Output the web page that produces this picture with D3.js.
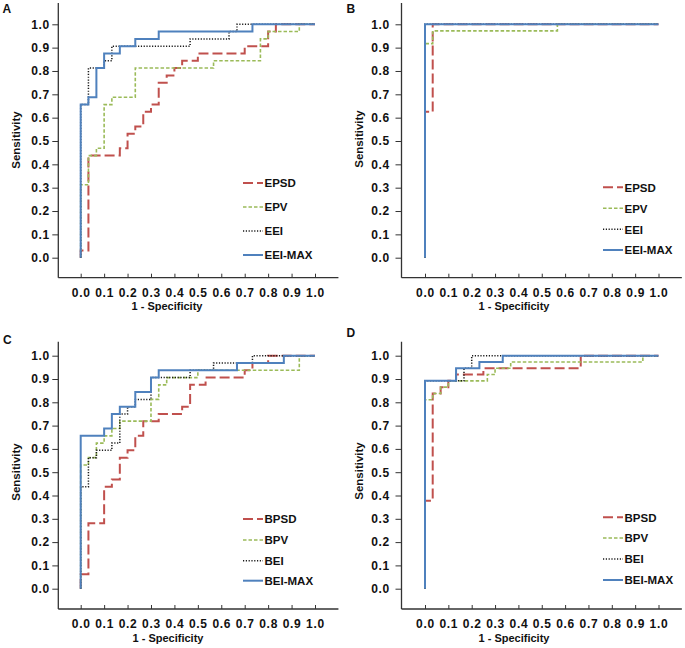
<!DOCTYPE html>
<html><head><meta charset="utf-8">
<script src="https://cdn.jsdelivr.net/npm/d3@7"></script>
<style>body{margin:0;background:#fff}</style>
</head><body>
<svg id="c" width="685" height="648"></svg>
<script>
// ---------- data ----------
const tickValues = [0,0.1,0.2,0.3,0.4,0.5,0.6,0.7,0.8,0.9,1.0];
const tickLabels = ["0.0","0.1","0.2","0.3","0.4","0.5","0.6","0.7","0.8","0.9","1.0"];
const xTitle = "1 - Specificity";
const yTitle = "Sensitivity";
const namesTop = ["EPSD","EPV","EEI","EEI-MAX"];
const namesBottom = ["BPSD","BPV","BEI","BEI-MAX"];
const panelLetters = ["A","B","C","D"];

// Panel A
const A_EPSD = [[0,0],[0,0.031],[0.033,0.031],[0.033,0.4375],[0.167,0.4375],[0.167,0.469],[0.2,0.469],[0.2,0.531],[0.233,0.531],[0.233,0.5625],[0.267,0.5625],[0.267,0.625],[0.3,0.625],[0.3,0.656],[0.333,0.656],[0.333,0.75],[0.367,0.75],[0.367,0.781],[0.4,0.781],[0.4,0.8125],[0.433,0.8125],[0.433,0.844],[0.5,0.844],[0.5,0.875],[0.7,0.875],[0.7,0.906],[0.8,0.906],[0.8,0.969],[0.833,0.969],[0.833,1],[1,1]];
const A_EPV = [[0,0],[0,0.3125],[0.033,0.3125],[0.033,0.4375],[0.067,0.4375],[0.067,0.469],[0.1,0.469],[0.1,0.656],[0.133,0.656],[0.133,0.6875],[0.233,0.6875],[0.233,0.8125],[0.567,0.8125],[0.567,0.844],[0.767,0.844],[0.767,0.9375],[0.8,0.9375],[0.8,0.969],[0.933,0.969],[0.933,1],[1,1]];
const A_EEI = [[0,0],[0,0.656],[0.033,0.656],[0.033,0.8125],[0.1,0.8125],[0.1,0.844],[0.133,0.844],[0.133,0.906],[0.467,0.906],[0.467,0.9375],[0.633,0.9375],[0.633,0.969],[0.667,0.969],[0.667,1],[1,1]];
const A_EEIMAX = [[0,0],[0,0.656],[0.033,0.656],[0.033,0.6875],[0.067,0.6875],[0.067,0.8125],[0.1,0.8125],[0.1,0.875],[0.167,0.875],[0.167,0.906],[0.233,0.906],[0.233,0.9375],[0.333,0.9375],[0.333,0.969],[0.733,0.969],[0.733,1],[1,1]];

// Panel B
const B_EPSD = [[0,0],[0,0.625],[0.033,0.625],[0.033,1],[1,1]];
const B_EPV = [[0,0],[0,0.917],[0.033,0.917],[0.033,0.972],[0.567,0.972],[0.567,1],[1,1]];
const B_EEI = [[0,0],[0,1],[1,1]];
const B_EEIMAX = [[0,0],[0,1],[1,1]];

// Panel C
const C_BPSD = [[0,0],[0,0.0625],[0.033,0.0625],[0.033,0.281],[0.1,0.281],[0.1,0.4375],[0.133,0.4375],[0.133,0.469],[0.167,0.469],[0.167,0.5625],[0.2,0.5625],[0.2,0.594],[0.233,0.594],[0.233,0.656],[0.267,0.656],[0.267,0.719],[0.333,0.719],[0.333,0.75],[0.433,0.75],[0.433,0.781],[0.467,0.781],[0.467,0.875],[0.533,0.875],[0.533,0.906],[0.7,0.906],[0.7,0.9375],[0.733,0.9375],[0.733,0.969],[0.8,0.969],[0.8,1],[1,1]];
const C_BPV = [[0,0],[0,0.531],[0.033,0.531],[0.033,0.5625],[0.067,0.5625],[0.067,0.625],[0.1,0.625],[0.1,0.656],[0.133,0.656],[0.133,0.6875],[0.167,0.6875],[0.167,0.719],[0.3,0.719],[0.3,0.8125],[0.333,0.8125],[0.333,0.875],[0.367,0.875],[0.367,0.906],[0.5,0.906],[0.5,0.9375],[0.933,0.9375],[0.933,1],[1,1]];
const C_BEI = [[0,0],[0,0.4375],[0.033,0.4375],[0.033,0.5625],[0.067,0.5625],[0.067,0.594],[0.133,0.594],[0.133,0.625],[0.167,0.625],[0.167,0.75],[0.2,0.75],[0.2,0.781],[0.233,0.781],[0.233,0.8125],[0.3,0.8125],[0.3,0.906],[0.467,0.906],[0.467,0.9375],[0.567,0.9375],[0.567,0.969],[0.733,0.969],[0.733,1],[1,1]];
const C_BEIMAX = [[0,0],[0,0.656],[0.1,0.656],[0.1,0.6875],[0.133,0.6875],[0.133,0.75],[0.167,0.75],[0.167,0.781],[0.233,0.781],[0.233,0.844],[0.3,0.844],[0.3,0.906],[0.333,0.906],[0.333,0.9375],[0.667,0.9375],[0.667,0.969],[0.867,0.969],[0.867,1],[1,1]];

// Panel D
const D_BPSD = [[0,0],[0,0.378],[0.033,0.378],[0.033,0.838],[0.067,0.838],[0.067,0.865],[0.1,0.865],[0.1,0.892],[0.133,0.892],[0.133,0.919],[0.25,0.919],[0.25,0.946],[0.667,0.946],[0.667,1],[1,1]];
const D_BPV = [[0,0],[0,0.811],[0.033,0.811],[0.033,0.838],[0.067,0.838],[0.067,0.865],[0.1,0.865],[0.1,0.892],[0.267,0.892],[0.267,0.919],[0.3,0.919],[0.3,0.946],[0.367,0.946],[0.367,0.973],[0.933,0.973],[0.933,1],[1,1]];
const D_BEI = [[0,0],[0,0.892],[0.167,0.892],[0.167,0.946],[0.2,0.946],[0.2,1],[1,1]];
const D_BEIMAX = [[0,0],[0,0.892],[0.133,0.892],[0.133,0.946],[0.233,0.946],[0.233,0.973],[0.333,0.973],[0.333,1],[1,1]];

// ---------- styles ----------
const colors = ["#C0504D","#9BBB59","#1a1a1a","#4F81BD"];
const dashes = ["10,4","3.5,2","1.2,1.6",null];
const widths = [2,1.6,1.5,2];
const FONT = "'Liberation Sans', Arial, sans-serif";

// ---------- layout ----------
const panels = [
  {letter:panelLetters[0], lx:2.5, ly:13.3, axisX:58.3, top:3, bottom:277.7, xr:[80.7,315], yr:[257.7,24.3],
   labPad:2.3, titleX:167, titleY:310, ytX:20, ytY:140, legX:243, legYs:[183,207,231,255],
   series:[A_EPSD,A_EPV,A_EEI,A_EEIMAX], names:namesTop},
  {letter:panelLetters[1], lx:346.5, ly:13.3, axisX:401.5, top:3, bottom:277.7, xr:[425,658.5], yr:[257.7,24.3],
   labPad:5.5, titleX:514, titleY:310, ytX:363.3, ytY:139, legX:603, legYs:[187.3,208.3,229.3,250],
   series:[B_EPSD,B_EPV,B_EEI,B_EEIMAX], names:namesTop},
  {letter:panelLetters[2], lx:3, ly:344, axisX:58.3, top:341.7, bottom:609, xr:[80.7,315], yr:[588.7,355.7],
   labPad:2.3, titleX:168, titleY:641.5, ytX:20, ytY:472, legX:243, legYs:[519,540,560.7,580.7],
   series:[C_BPSD,C_BPV,C_BEI,C_BEIMAX], names:namesBottom},
  {letter:panelLetters[3], lx:346.5, ly:336.7, axisX:401.5, top:341.7, bottom:609, xr:[425,658.5], yr:[588.7,355.7],
   labPad:5.5, titleX:514, titleY:641.5, ytX:363.3, ytY:471, legX:603, legYs:[517.3,538,559,580],
   series:[D_BPSD,D_BPV,D_BEI,D_BEIMAX], names:namesBottom}
];

const svg = d3.select("#c");
svg.append("rect").attr("width",685).attr("height",648).attr("fill","#fff");

panels.forEach(p => {
  const g = svg.append("g");
  const x = d3.scaleLinear().domain([0,1]).range(p.xr);
  const y = d3.scaleLinear().domain([0,1]).range(p.yr);

  // axis lines
  g.append("line").attr("x1",p.axisX).attr("x2",p.axisX).attr("y1",p.top).attr("y2",p.bottom)
    .attr("stroke","#333").attr("stroke-width",1.3);
  g.append("line").attr("x1",p.axisX).attr("x2",x(1.1)).attr("y1",p.bottom).attr("y2",p.bottom)
    .attr("stroke","#333").attr("stroke-width",1.3);

  // x axis ticks/labels
  const xa = g.append("g").attr("transform",`translate(0,${p.bottom})`)
    .call(d3.axisBottom(x).tickValues(tickValues).tickFormat((d,i)=>tickLabels[i]).tickSize(-4).tickPadding(10.8));
  xa.select(".domain").remove();
  xa.selectAll("line").attr("stroke","#333").attr("stroke-width",1);
  xa.selectAll("text").attr("font-family",FONT).attr("font-weight","bold").attr("font-size",12)
    .attr("fill","#111").attr("letter-spacing",0.7);

  // y axis ticks/labels
  const ya = g.append("g").attr("transform",`translate(${p.axisX},0)`)
    .call(d3.axisLeft(y).tickValues(tickValues).tickFormat((d,i)=>tickLabels[i]).tickSize(6).tickPadding(p.labPad));
  ya.select(".domain").remove();
  ya.selectAll("line").attr("stroke","#333").attr("stroke-width",1);
  ya.selectAll("text").attr("font-family",FONT).attr("font-weight","bold").attr("font-size",12)
    .attr("fill","#111").attr("letter-spacing",0.7);

  // titles
  g.append("text").attr("x",p.titleX).attr("y",p.titleY).attr("text-anchor","middle")
    .attr("font-family",FONT).attr("font-weight","bold").attr("font-size",11).attr("fill","#111").text(xTitle);
  g.append("text").attr("transform",`translate(${p.ytX},${p.ytY}) rotate(-90)`).attr("text-anchor","middle")
    .attr("font-family",FONT).attr("font-weight","bold").attr("font-size",11.5).attr("fill","#111").text(yTitle);
  g.append("text").attr("x",p.lx).attr("y",p.ly)
    .attr("font-family",FONT).attr("font-weight","bold").attr("font-size",12).attr("fill","#111").text(p.letter);

  // curves
  const line = d3.line().x(d=>x(d[0])).y(d=>y(d[1]));
  p.series.forEach((s,i) => {
    g.append("path").attr("d",line(s)).attr("fill","none").attr("stroke",colors[i])
      .attr("stroke-width",widths[i]).attr("stroke-dasharray",dashes[i]);
  });

  // legend
  p.names.forEach((n,i) => {
    const yy = p.legYs[i];
    g.append("line").attr("x1",p.legX).attr("x2",p.legX+20).attr("y1",yy).attr("y2",yy)
      .attr("stroke",colors[i]).attr("stroke-width",widths[i]).attr("stroke-dasharray",dashes[i]);
    g.append("text").attr("x",p.legX+21.5).attr("y",yy+4.2)
      .attr("font-family",FONT).attr("font-weight","bold").attr("font-size",11.5).attr("fill","#111").text(n);
  });
});
</script>
</body></html>
